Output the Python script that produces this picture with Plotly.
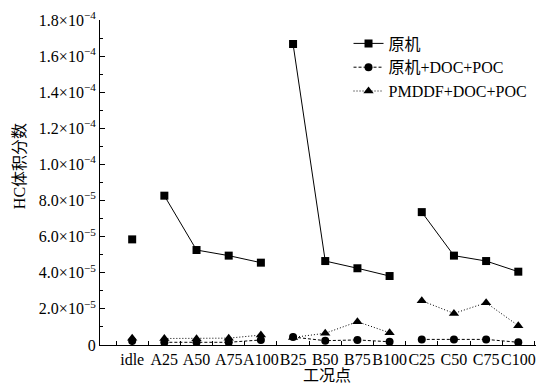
import plotly.graph_objects as go

categories = ["idle", "A25", "A50", "A75", "A100", "B25", "B50", "B75", "B100",
              "C25", "C50", "C75", "C100"]
groups = [[0], [1, 2, 3, 4], [5, 6, 7, 8], [9, 10, 11, 12]]

orig = [5.85e-5, 8.27e-5, 5.26e-5, 4.95e-5, 4.56e-5, 16.67e-5, 4.65e-5, 4.25e-5, 3.82e-5,
        7.36e-5, 4.95e-5, 4.65e-5, 4.06e-5]
orig_doc = [0.22e-5, 0.15e-5, 0.15e-5, 0.15e-5, 0.28e-5, 0.44e-5, 0.24e-5, 0.28e-5, 0.18e-5,
            0.31e-5, 0.31e-5, 0.31e-5, 0.15e-5]
pmddf_doc = [0.38e-5, 0.36e-5, 0.35e-5, 0.38e-5, 0.55e-5, 0.42e-5, 0.65e-5, 1.29e-5, 0.68e-5,
             2.45e-5, 1.75e-5, 2.34e-5, 1.07e-5]

names = ["原机", "原机+DOC+POC", "PMDDF+DOC+POC"]
series = [orig, orig_doc, pmddf_doc]
dashes = ["solid", "3px,2px", "1px,2px"]
symbols = ["square", "circle", "triangle-up"]
msizes = [8, 8, 9]

y_tickvals = [0, 2e-5, 4e-5, 6e-5, 8e-5, 1e-4, 1.2e-4, 1.4e-4, 1.6e-4, 1.8e-4]
y_ticktext = ["0", "2.0×10<sup>−5</sup>", "4.0×10<sup>−5</sup>", "6.0×10<sup>−5</sup>",
              "8.0×10<sup>−5</sup>", "1.0×10<sup>−4</sup>", "1.2×10<sup>−4</sup>",
              "1.4×10<sup>−4</sup>", "1.6×10<sup>−4</sup>", "1.8×10<sup>−4</sup>"]


def gapped(vals):
    xs, ys = [], []
    for g in groups:
        for i in g:
            xs.append(i)
            ys.append(vals[i])
        xs.append(None)
        ys.append(None)
    return xs[:-1], ys[:-1]


FONT = "Liberation Serif, Times New Roman, Noto Sans CJK SC, serif"

fig = go.Figure()
for name, vals, d, s, ms in zip(names, series, dashes, symbols, msizes):
    xs, ys = gapped(vals)
    fig.add_trace(go.Scatter(
        x=xs, y=ys, name=name, mode="lines+markers",
        line=dict(color="black", width=1, dash=d),
        marker=dict(symbol=s, size=ms, color="black"),
        connectgaps=False,
    ))

fig.update_layout(
    width=543, height=384,
    margin=dict(l=100, r=7, t=20, b=39),
    paper_bgcolor="white", plot_bgcolor="white",
    font=dict(family=FONT, size=16, color="black"),
    showlegend=True,
    legend=dict(x=0.57, y=0.98, xanchor="left", yanchor="top",
                bgcolor="rgba(0,0,0,0)", font=dict(size=16),
                tracegroupgap=0, itemwidth=30),
    xaxis=dict(
        range=[-1, 12.55], tickvals=list(range(13)), ticktext=categories,
        tickangle=0, ticks="", showline=True, linecolor="black", linewidth=1,
        showgrid=False, zeroline=False, ticklen=0,
        minor=dict(tickvals=[i - 0.5 for i in range(14)], ticks="inside",
                   ticklen=4, tickcolor="black", showgrid=False),
        tickfont=dict(size=16),
    ),
    yaxis=dict(
        range=[0, 1.8e-4], tickvals=y_tickvals, ticktext=y_ticktext,
        ticks="inside", ticklen=5, tickcolor="black",
        showline=True, linecolor="black", linewidth=1,
        showgrid=False, zeroline=False,
        minor=dict(tickvals=[(2 * k + 1) * 1e-5 for k in range(9)], ticks="inside",
                   ticklen=3, tickcolor="black", showgrid=False),
        tickfont=dict(size=16),
    ),
    annotations=[
        dict(text="HC体积分数", xref="paper", yref="paper", x=-0.186, y=0.55,
             showarrow=False, textangle=-90, font=dict(size=16),
             xanchor="center", yanchor="middle"),
        dict(text="工况点", xref="paper", yref="paper", x=0.52, y=-0.095,
             showarrow=False, font=dict(size=16), xanchor="center", yanchor="middle"),
    ],
)

fig.write_html("out.html")
